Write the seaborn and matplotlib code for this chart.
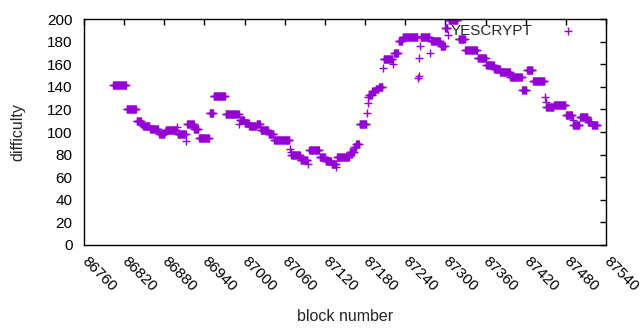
import numpy as np
import pandas as pd
import seaborn as sns
import matplotlib.pyplot as plt

# runs of blocks with a constant difficulty (first block, last block, difficulty)
run_start = [86804, 86824, 86839, 86846, 86849, 86859, 86873, 86881, 86882, 86899,
             86900, 86913, 86914, 86925, 86932, 86948, 86954, 86972, 86992, 86993,
             87000, 87007, 87018, 87024, 87036, 87044, 87068, 87069, 87070, 87084,
             87095, 87097, 87112, 87121, 87130, 87137, 87138, 87157, 87164, 87167,
             87172, 87183, 87184, 87185, 87186, 87191, 87196, 87201, 87207, 87208,
             87222, 87223, 87230, 87236, 87259, 87260, 87261, 87262, 87263, 87277,
             87279, 87293, 87300, 87304, 87305, 87320, 87330, 87348, 87361, 87373,
             87382, 87397, 87415, 87422, 87431, 87449, 87450, 87451, 87462, 87480,
             87490, 87491, 87501, 87513, 87519]
run_end = [86823, 86838, 86845, 86848, 86858, 86871, 86880, 86881, 86898, 86899,
           86912, 86913, 86924, 86931, 86947, 86953, 86971, 86991, 86992, 86999,
           87006, 87017, 87023, 87035, 87043, 87067, 87068, 87069, 87083, 87094,
           87095, 87111, 87120, 87129, 87136, 87137, 87156, 87163, 87166, 87171,
           87182, 87183, 87184, 87185, 87190, 87195, 87200, 87206, 87207, 87221,
           87222, 87229, 87235, 87258, 87259, 87260, 87261, 87262, 87276, 87277,
           87292, 87299, 87303, 87304, 87318, 87329, 87347, 87360, 87372, 87381,
           87396, 87414, 87421, 87430, 87448, 87449, 87450, 87461, 87479, 87489,
           87490, 87500, 87512, 87518, 87527]
run_difficulty = [142, 120, 110, 107, 105, 103, 98, 100, 102, 104,
                  98, 92, 107, 103, 95, 117, 132, 116, 107, 111,
                  108, 105, 107, 102, 98, 93, 85, 82, 80, 75,
                  72, 84, 78, 74, 72, 69, 78, 82, 87, 89,
                  107, 117, 126, 131, 133, 136, 138, 140, 157, 165,
                  160, 170, 181, 184, 148, 150, 166, 176, 184, 170,
                  181, 176, 192, 186, 199, 182, 173, 166, 159, 156,
                  153, 149, 137, 155, 145, 131, 127, 122, 124, 115,
                  111, 106, 113, 109, 106]

x_ticks = list(range(86760, 87541, 60))
y_ticks = list(range(0, 201, 20))

blocks = np.concatenate([np.arange(s, e + 1) for s, e in zip(run_start, run_end)])
diffs = np.concatenate([[d] * (e - s + 1) for s, e, d in zip(run_start, run_end, run_difficulty)])
df = pd.DataFrame({'block': blocks, 'difficulty': diffs})

sns.set_theme(style='white')
plt.rcParams['font.family'] = ['Liberation Sans', 'DejaVu Sans']

fig, ax = plt.subplots(figsize=(6.4, 3.3), dpi=100)
fig.subplots_adjust(left=0.131, right=0.947, top=0.942, bottom=0.258)

sns.scatterplot(data=df, x='block', y='difficulty', marker='+', s=36,
                color='#9400d3', linewidth=1, label='YESCRYPT', ax=ax)

ax.set_xlim(86760, 87540)
ax.set_ylim(0, 200)
ax.set_xticks(x_ticks)
ax.set_yticks(y_ticks)
ax.set_xticklabels([str(t) for t in x_ticks], rotation=-45, ha='left',
                   va='center', rotation_mode='anchor')
ax.tick_params(direction='in', length=4, width=1, top=True, right=True,
               labelsize=11, colors='black')
ax.tick_params(axis='x', pad=10)
ax.tick_params(axis='y', pad=8)
for sp in ax.spines.values():
    sp.set_color('black')
    sp.set_linewidth(1)

ax.set_xlabel('block number', fontsize=11.5, labelpad=11)
ax.set_ylabel('difficulty', fontsize=11.5, labelpad=16)

ax.legend(loc='center right', bbox_to_anchor=(0.971, 0.947), frameon=False,
          markerfirst=False, borderpad=0, borderaxespad=0, handlelength=3,
          handletextpad=0.8, fontsize=11)

plt.savefig('out.png', dpi=100)
